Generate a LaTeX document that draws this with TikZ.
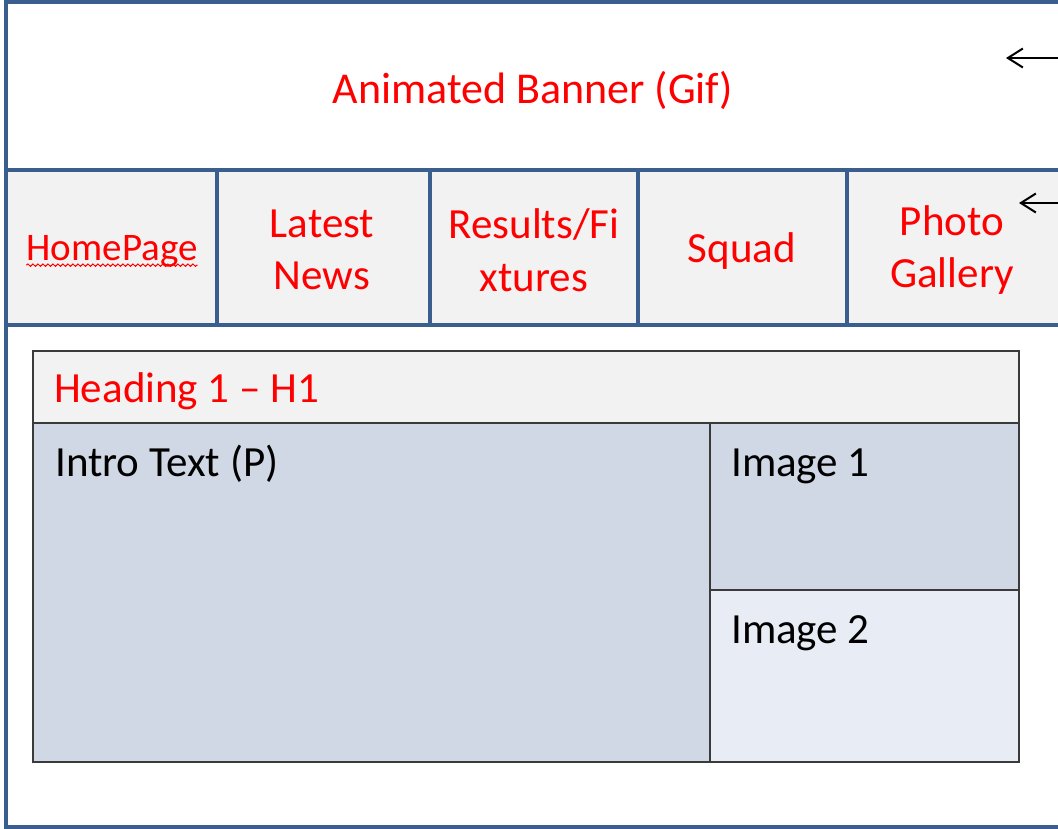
\documentclass[tikz,border=0pt]{standalone}
\usepackage{fontspec}
\setmainfont{Carlito}
\usetikzlibrary{arrows.meta,decorations.pathmorphing}
\definecolor{frameblue}{HTML}{3A5F8E}
\definecolor{navgray}{HTML}{F2F2F2}
\definecolor{boxline}{HTML}{3A3A3A}
\definecolor{panelblue}{HTML}{D0D8E6}
\definecolor{paleblue}{HTML}{E8ECF4}
\definecolor{labelred}{HTML}{FF0000}
\tikzset{
  every node/.style={font=\fontsize{43}{52.5}\selectfont, inner sep=0pt},
  frameline/.style={draw=frameblue, line width=4.5pt},
  boxedge/.style={draw=boxline, line width=2.5pt},
  navcell/.style={fill=navgray, minimum height=155pt},
  navtext/.style={text=labelred, align=center},
  panel/.style={fill=#1},
  bodytext/.style={anchor=base west, text=black},
  redtext/.style={anchor=base west, text=labelred},
  pointer/.style={draw=black, line width=2pt, -{Straight Barb[length=15pt,width=19pt,line width=2pt]}},
  wavy/.style={draw=labelred, line width=1pt, decorate, decoration={snake, amplitude=1.2pt, segment length=5pt}}
}
\begin{document}
\begin{tikzpicture}[x=1pt,y=-1pt]
\useasboundingbox (0,0) rectangle (1058,829);
\clip (0,0) rectangle (1058,829);
\fill[white] (0,0) rectangle (1058,829);

% banner
\node[text=labelred, font=\fontsize{44}{53}\selectfont] (banner) at (533,90) {Animated Banner (Gif)};

% navigation bar cells
\node[navcell, minimum width=211pt] (home)    at (111.5,247.5) {};
\node[navcell, minimum width=213pt] (news)    at (323.5,247.5) {};
\node[navcell, minimum width=208pt] (results) at (534,247.5) {};
\node[navcell, minimum width=209pt] (squad)   at (742.5,247.5) {};
\node[navcell, minimum width=223pt] (gallery) at (958.5,247.5) {};

\node[text=labelred, font=\fontsize{39}{47}\selectfont] (homelabel) at (112,251) {HomePage};
\node[navtext] (newslabel)    at (322,250) {Latest\\News};
\node[navtext] (resultslabel) at (534,250) {Results/Fi\\xtures};
\node[navtext] (squadlabel)   at (742,251) {Squad};
\node[navtext] (gallerylabel) at (952,250) {Photo\\Gallery};
\draw[wavy] ([yshift=-5pt]homelabel.base west) -- ([yshift=-5pt]homelabel.base east);

% page frame and navigation borders
\draw[frameline] (6,2) rectangle (1070,827);
\draw[frameline] (home.north west) -- (gallery.north east);
\draw[frameline] (home.south west) -- (gallery.south east);
\draw[frameline] (home.north east) -- (home.south east);
\draw[frameline] (news.north east) -- (news.south east);
\draw[frameline] (results.north east) -- (results.south east);
\draw[frameline] (squad.north east) -- (squad.south east);

% content area
\node[panel=navgray, minimum width=986pt, minimum height=72pt] (heading) at (526,387) {};
\node[panel=panelblue, minimum width=677pt, minimum height=339pt] (intro) at (371.5,592.5) {};
\node[panel=panelblue, minimum width=309pt, minimum height=167pt] (imageone) at (864.5,506.5) {};
\node[panel=paleblue, minimum width=309pt, minimum height=172pt] (imagetwo) at (864.5,676) {};
\draw[boxedge] (heading.north west) rectangle (imagetwo.south east);
\draw[boxedge] (heading.south west) -- (heading.south east);
\draw[boxedge] (intro.north east) -- (intro.south east);
\draw[boxedge] (imageone.south west) -- (imageone.south east);

\node[redtext]  (headingtext) at (54,402) {Heading 1 – H1};
\node[bodytext] (introtext)   at (55,476) {Intro Text (P)};
\node[bodytext] (imageonetext) at (731,476) {Image 1};
\node[bodytext] (imagetwotext) at (731,643) {Image 2};

% pointers from the margin
\coordinate (bannertail) at (1062,58);
\coordinate (bannertip) at (1006,58);
\coordinate (navtail) at (1062,203);
\coordinate (navtip) at (1019,203);
\draw[pointer] (bannertail) -- (bannertip);
\draw[pointer] (navtail) -- (navtip);
\end{tikzpicture}
\end{document}
